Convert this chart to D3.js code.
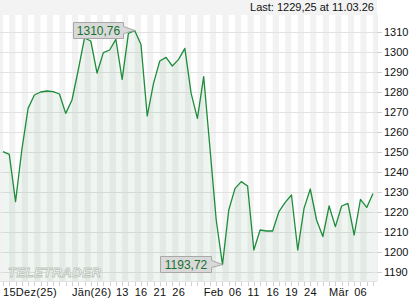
<!DOCTYPE html>
<html>
<head>
<meta charset="utf-8">
<script src="https://cdn.jsdelivr.net/npm/d3@7/dist/d3.min.js"></script>
<style>
  body { margin: 0; background: #fff; }
  svg { display: block; font-family: "Liberation Sans", Arial, sans-serif; }
</style>
</head>
<body>
<svg id="chart" width="420" height="300"></svg>
<script>
// trading days, 15.12.25 .. 11.03.26
const dates = [
  "15.12", "16.12", "17.12", "18.12", "19.12", "22.12", "23.12", "24.12", "29.12", "30.12",
  "31.12", "02.01", "05.01", "06.01", "07.01", "08.01", "09.01", "12.01", "13.01", "14.01",
  "15.01", "16.01", "19.01", "20.01", "21.01", "22.01", "23.01", "26.01", "27.01", "28.01",
  "29.01", "30.01", "02.02", "03.02", "04.02", "05.02", "06.02", "09.02", "10.02", "11.02",
  "12.02", "13.02", "16.02", "17.02", "18.02", "19.02", "20.02", "23.02", "24.02", "25.02",
  "26.02", "27.02", "02.03", "03.03", "04.03", "05.03", "06.03", "09.03", "10.03", "11.03"
];
const prices = [
  1250.2, 1248.8, 1225.2, 1251.0, 1271.8, 1278.5, 1280.0, 1280.5, 1280.2, 1279.0,
  1269.3, 1276.0, 1291.0, 1307.0, 1305.5, 1289.5, 1299.7, 1301.0, 1306.3, 1286.3,
  1309.3, 1310.76, 1303.8, 1268.0, 1284.3, 1295.5, 1297.3, 1293.0, 1296.3, 1301.8,
  1279.3, 1266.8, 1287.7, 1252.0, 1216.0, 1193.72, 1221.0, 1231.8, 1235.2, 1233.0,
  1201.0, 1211.0, 1210.5, 1210.5, 1220.2, 1224.8, 1228.5, 1201.0, 1221.8, 1231.5,
  1216.0, 1207.7, 1223.0, 1212.7, 1223.0, 1224.3, 1208.5, 1226.3, 1222.3, 1229.25
];
const xTickDates = ["15.12", "02.01", "13.01", "16.01", "21.01", "26.01", "02.02", "06.02", "11.02", "16.02", "19.02", "24.02", "02.03", "06.03"];
const xTickLabels = ["15Dez(25)", "Jän(26)", "13", "16", "21", "26", "Feb", "06", "11", "16", "19", "24", "Mär", "06"];
const yTicks = [1190, 1200, 1210, 1220, 1230, 1240, 1250, 1260, 1270, 1280, 1290, 1300, 1310];
const lastLabel = "Last: 1229,25 at 11.03.26";

const fmt = v => d3.format(".2f")(v).replace(".", ",");

const svg = d3.select("#chart");
const plot = { left: 0, right: 377, top: 15, bottom: 281 };

const x = d3.scalePoint().domain(dates).range([3, 373]);
const step = x.step();
const y = d3.scaleLinear().domain([1185.5, 1318.5]).range([plot.bottom, plot.top]);

// header band
svg.append("rect").attr("x", 0).attr("y", 0).attr("width", 377).attr("height", plot.top)
  .attr("fill", "#f3f3f3");
svg.append("text").attr("x", 374).attr("y", 11).attr("text-anchor", "end")
  .attr("font-size", 11).attr("fill", "#111").text(lastLabel);

svg.append("clipPath").attr("id", "clip").append("rect")
  .attr("x", plot.left).attr("y", plot.top)
  .attr("width", plot.right - plot.left).attr("height", plot.bottom - plot.top);

const g = svg.append("g").attr("clip-path", "url(#clip)");

// vertical stripes between points
g.selectAll("rect.stripe").data(d3.range(-1, dates.length))
  .join("rect").attr("class", "stripe")
  .attr("x", i => 3 + i * step).attr("y", plot.top)
  .attr("width", step).attr("height", plot.bottom - plot.top)
  .attr("fill", i => (i % 2 !== 0) ? "#f2f2f2" : "#ffffff");

// horizontal grid
g.selectAll("line.grid").data(yTicks).join("line").attr("class", "grid")
  .attr("x1", plot.left).attr("x2", plot.right)
  .attr("y1", d => Math.round(y(d)) + 0.5).attr("y2", d => Math.round(y(d)) + 0.5)
  .attr("stroke", "#e2e2e2");

const pts = dates.map((d, i) => ({ d, v: prices[i] }));

g.append("path").datum(pts)
  .attr("d", d3.area().x(p => x(p.d)).y0(plot.bottom).y1(p => y(p.v)))
  .attr("fill", "#2f7d3a").attr("fill-opacity", 0.08);

// watermark
svg.append("text").attr("x", 8).attr("y", 277)
  .attr("font-size", 13).attr("font-weight", "bold").attr("letter-spacing", 0.6)
  .attr("font-style", "italic")
  .attr("fill", "#ffffff").attr("stroke", "#bcc4bc").attr("stroke-width", 0.9)
  .text("TELETRADER");

g.append("path").datum(pts)
  .attr("d", d3.line().x(p => x(p.d)).y(p => y(p.v)))
  .attr("fill", "none").attr("stroke", "#1e8c3a").attr("stroke-width", 1.3)
  .attr("stroke-linejoin", "round");

// bottom axis
svg.append("line").attr("x1", 0).attr("x2", plot.right)
  .attr("y1", plot.bottom + 0.5).attr("y2", plot.bottom + 0.5).attr("stroke", "#e4e4e4");
svg.selectAll("line.xt").data(dates).join("line").attr("class", "xt")
  .attr("x1", d => Math.round(x(d)) + 0.5).attr("x2", d => Math.round(x(d)) + 0.5)
  .attr("y1", plot.bottom + 1).attr("y2", plot.bottom + 5).attr("stroke", "#d0d0d0");
svg.selectAll("text.xl").data(xTickDates).join("text").attr("class", "xl")
  .attr("x", d => x(d)).attr("y", 296).attr("font-size", 11).attr("fill", "#111")
  .attr("letter-spacing", 0.3)
  .text((d, i) => xTickLabels[i]);

// right axis
svg.append("line").attr("x1", plot.right + 0.5).attr("x2", plot.right + 0.5)
  .attr("y1", plot.top).attr("y2", plot.bottom).attr("stroke", "#eeeeee");
const yAxis = svg.append("g").attr("transform", `translate(${plot.right},0)`)
  .call(d3.axisRight(y).tickValues(yTicks).tickSize(5).tickPadding(2).tickFormat(d3.format("d")));
yAxis.select(".domain").remove();
yAxis.selectAll(".tick line").attr("stroke", "#d0d0d0");
yAxis.selectAll(".tick text").attr("font-size", 11).attr("fill", "#111")
  .attr("font-family", "Liberation Sans, Arial, sans-serif");

// callouts for high / low
function callout(i, bx, by, bw, bh) {
  const px = x(dates[i]), py = y(prices[i]);
  const r = bx + bw;
  const cy = by + bh / 2;
  const path = `M${bx},${by}H${r}V${cy - 4}L${px},${py}L${r},${cy + 3}V${by + bh}H${bx}Z`;
  svg.append("path").attr("d", path).attr("fill", "#d9d9d9").attr("stroke", "#a8a8a8");
  svg.append("text").attr("x", bx + bw / 2).attr("y", by + bh - 4)
    .attr("text-anchor", "middle").attr("font-size", 12).attr("fill", "#17702e")
    .text(fmt(prices[i]));
}
const hi = d3.maxIndex(prices), lo = d3.minIndex(prices);
callout(hi, 73.5, 22.5, 50, 16);
callout(lo, 160.5, 256.5, 51, 16);
</script>
</body>
</html>
